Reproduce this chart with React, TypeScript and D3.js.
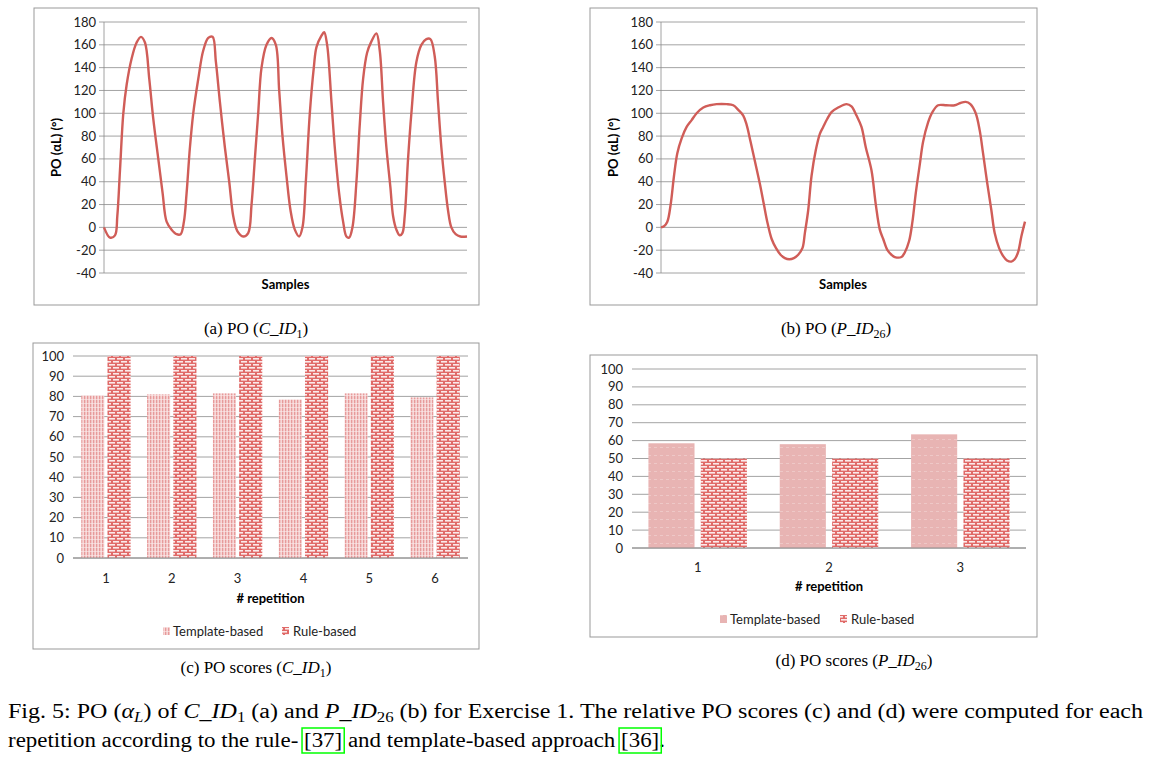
import React, { useEffect, useRef } from "react";
import * as d3 from "d3";

// ---- data ----
const yTicksLine = [-40, -20, 0, 20, 40, 60, 80, 100, 120, 140, 160, 180];
const yTicksBar = [0, 10, 20, 30, 40, 50, 60, 70, 80, 90, 100];

// panel (a): [sample, degrees]
const poC: [number, number][] = [
  [0,0],[18,-9],[33,-7],[40,10],[48,50],[58,100],[68,125],[83,148],[98,162],[111,167],[123,162],[136,130],[148,95],[163,60],[176,30],[188,5],[203,-2],[218,-6],[230,-6],[240,5],[248,30],[258,70],[268,100],[283,130],[298,155],[313,166],[326,167],[336,145],[348,110],[363,70],[376,40],[388,10],[400,-3],[418,-8],[433,-5],[443,20],[453,60],[463,100],[473,140],[488,160],[503,166],[516,160],[526,120],[536,80],[548,45],[560,15],[573,-2],[586,-8],[596,0],[606,40],[618,100],[630,140],[638,158],[653,168],[661,171],[670,160],[683,110],[693,70],[706,30],[718,5],[728,-8],[736,-9],[746,0],[758,40],[768,90],[778,130],[790,153],[803,163],[818,170],[828,155],[838,110],[848,70],[860,35],[868,10],[878,-2],[888,-7],[896,-5],[903,10],[913,60],[923,100],[938,145],[953,160],[968,165],[980,165],[993,150],[1003,110],[1013,70],[1023,40],[1033,15],[1043,0],[1056,-6],[1070,-8],[1090,-8]
];
// panel (b)
const poP: [number, number][] = [
  [0,0],[9,1],[19,5],[29,20],[39,45],[49,65],[62,78],[77,88],[92,94],[107,100],[127,105],[147,107],[167,108],[197,108],[217,107],[232,103],[247,98],[257,90],[269,75],[282,58],[297,38],[309,20],[319,5],[332,-10],[345,-18],[359,-24],[372,-27],[385,-28],[399,-27],[412,-24],[425,-18],[432,-5],[442,15],[452,45],[465,68],[477,82],[487,88],[499,95],[512,101],[532,105],[557,108],[572,106],[587,98],[602,88],[615,70],[632,50],[645,20],[657,-2],[667,-10],[680,-20],[692,-24],[702,-26],[722,-26],[732,-22],[745,-12],[755,5],[765,30],[777,55],[787,75],[802,92],[815,101],[832,107],[857,107],[882,107],[899,109],[915,110],[929,108],[945,100],[957,85],[967,65],[979,40],[992,15],[1002,-5],[1015,-18],[1027,-25],[1039,-29],[1052,-30],[1062,-28],[1072,-22],[1082,-8],[1093,5]
];

const repsC = ["1", "2", "3", "4", "5", "6"];
const templateC = [80.5, 81, 81.5, 78.5, 81.5, 79.5];
const ruleC = [100, 100, 100, 100, 100, 100];
const repsD = ["1", "2", "3"];
const templateD = [58.5, 58, 63.5];
const ruleD = [50, 50, 50];

const LINE = "#d05d58";
const GRID = "#8c8c8c";
const FONT = "Lato, 'Liberation Sans', sans-serif";
const SERIF = "'Liberation Serif', 'DejaVu Serif', serif";

function LineChart({ box, plot, data, xMax }: any) {
  const x = d3.scaleLinear().domain([0, xMax]).range([plot.x0, plot.x1]);
  const y = d3.scaleLinear().domain([-40, 180]).range([plot.y1, plot.y0]);
  const line = d3.line<[number, number]>().x(d => x(d[0])).y(d => y(d[1])).curve(d3.curveCatmullRom);
  return (
    <g>
      <rect x={box.x0} y={box.y0} width={box.x1 - box.x0} height={box.y1 - box.y0} fill="white" stroke="#999" strokeWidth={1} />
      {yTicksLine.map(t => (
        <g key={t}>
          <line x1={plot.x0 - 5} x2={plot.x1} y1={y(t)} y2={y(t)} stroke={GRID} strokeWidth={0.8} />
          <text x={plot.x0 - 8} y={y(t)} dy="0.35em" textAnchor="end" fontSize={13} fontFamily={FONT} fill="#222">{t}</text>
        </g>
      ))}
      <line x1={plot.x0} x2={plot.x0} y1={plot.y0} y2={plot.y1} stroke={GRID} strokeWidth={0.8} />
      <path d={line(data) || ""} fill="none" stroke={LINE} strokeWidth={2.4} />
      <text x={(plot.x0 + plot.x1) / 2} y={plot.y1 + 16} textAnchor="middle" fontSize={13} fontWeight="bold" fontFamily={FONT}>Samples</text>
      <text transform={`translate(${plot.x0 - 43},${(plot.y0 + plot.y1) / 2}) rotate(-90)`} textAnchor="middle" fontSize={13} fontWeight="bold" fontFamily={FONT}>PO (αL) (°)</text>
    </g>
  );
}

function BarChart({ box, plot, cats, tpl, rule, tplFill, inner, labelY, titleY, legendY, legend }: any) {
  const x0 = d3.scaleBand().domain(cats).range([plot.x0, plot.x1]).paddingInner(inner).paddingOuter(inner / 2);
  const x1 = d3.scaleBand().domain(["t", "r"]).range([0, x0.bandwidth()]).paddingInner(0.12);
  const y = d3.scaleLinear().domain([0, 100]).range([plot.y1, plot.y0]);
  return (
    <g>
      <rect x={box.x0} y={box.y0} width={box.x1 - box.x0} height={box.y1 - box.y0} fill="white" stroke="#999" strokeWidth={1} />
      {yTicksBar.map(t => (
        <g key={t}>
          <line x1={plot.x0} x2={plot.x1} y1={y(t)} y2={y(t)} stroke={GRID} strokeWidth={0.8} />
          <text x={plot.x0 - 9} y={y(t)} dy="0.35em" textAnchor="end" fontSize={13} fontFamily={FONT} fill="#222">{t}</text>
        </g>
      ))}
      {cats.map((c: string, i: number) => (
        <g key={c}>
          <rect x={x0(c)! + x1("t")!} y={y(tpl[i])} width={x1.bandwidth()} height={y(0) - y(tpl[i])} fill={tplFill} />
          <rect x={x0(c)! + x1("r")!} y={y(rule[i])} width={x1.bandwidth()} height={y(0) - y(rule[i])} fill="url(#brick)" />
          <text x={x0(c)! + x0.bandwidth() / 2} y={labelY} textAnchor="middle" fontSize={13} fontFamily={FONT} fill="#222">{c}</text>
        </g>
      ))}
      <line x1={plot.x0} x2={plot.x1} y1={y(0)} y2={y(0)} stroke={GRID} strokeWidth={1} />
      <text x={(plot.x0 + plot.x1) / 2} y={titleY} textAnchor="middle" fontSize={13} fontWeight="bold" fontFamily={FONT}># repetition</text>
      <rect x={legend[0]} y={legendY - 9} width={7} height={8} fill={tplFill} />
      <text x={legend[0] + 10} y={legendY} fontSize={13} fontFamily={FONT} fill="#222">Template-based</text>
      <rect x={legend[1]} y={legendY - 9} width={7} height={8} fill="url(#brick)" />
      <text x={legend[1] + 11} y={legendY} fontSize={13} fontFamily={FONT} fill="#222">Rule-based</text>
    </g>
  );
}

function Cap({ x, y, pre, id, sub }: any) {
  return (
    <text x={x} y={y} textAnchor="middle" fontSize={17} fontFamily={SERIF}>
      {pre}(<tspan fontStyle="italic">{id}</tspan><tspan fontSize={12} dy={4}>{sub}</tspan><tspan dy={-4}>)</tspan>
    </text>
  );
}

export default function App() {
  const ref37 = useRef<SVGTSpanElement>(null);
  const ref36 = useRef<SVGTSpanElement>(null);
  const box37 = useRef<SVGRectElement>(null);
  const box36 = useRef<SVGRectElement>(null);
  useEffect(() => {
    [[ref37, box37], [ref36, box36]].forEach(([t, r]: any) => {
      if (!t.current || !r.current) return;
      const b = t.current.getBBox();
      r.current.setAttribute("x", String(b.x - 2));
      r.current.setAttribute("y", String(b.y - 1));
      r.current.setAttribute("width", String(b.width + 4));
      r.current.setAttribute("height", String(b.height + 3));
    });
  }, []);
  return (
    <svg width={1151} height={761} style={{ position: "absolute", left: 0, top: 0 }}>
      <defs>
        <pattern id="brick" width={8} height={6} patternUnits="userSpaceOnUse">
          <rect width={8} height={6} fill="#e06a68" />
          <rect x={1} y={1} width={6} height={1.6} fill="#fbeaea" />
          <rect x={5} y={4} width={6} height={1.6} fill="#fbeaea" />
          <rect x={-3} y={4} width={6} height={1.6} fill="#fbeaea" />
        </pattern>
        <pattern id="vstripe" width={3} height={4} patternUnits="userSpaceOnUse">
          <rect width={3} height={4} fill="#f6d6d6" />
          <rect x={0} width={1.3} height={4} fill="#e79a9a" />
          <rect x={0} y={3} width={3} height={0.6} fill="#fbecec" />
        </pattern>
        <pattern id="solidpink" width={6} height={8} patternUnits="userSpaceOnUse">
          <rect width={6} height={8} fill="#e8b4b3" />
          <rect y={7} width={3} height={0.6} fill="#f3d5d5" />
        </pattern>
      </defs>
      <rect width={1151} height={761} fill="white" />
      <LineChart box={{ x0: 34, x1: 479, y0: 8, y1: 305 }} plot={{ x0: 104, x1: 467, y0: 22, y1: 273 }} data={poC} xMax={1090} />
      <LineChart box={{ x0: 590, x1: 1037, y0: 8, y1: 305 }} plot={{ x0: 661, x1: 1025, y0: 22, y1: 273 }} data={poP} xMax={1093} />
      <BarChart box={{ x0: 33, x1: 479, y0: 343, y1: 649 }} plot={{ x0: 73, x1: 468, y0: 356, y1: 558 }} cats={repsC} tpl={templateC} rule={ruleC}
        tplFill="url(#vstripe)" inner={0.25} labelY={583} titleY={603} legendY={636} legend={[163, 282]} />
      <BarChart box={{ x0: 590, x1: 1037, y0: 355, y1: 637 }} plot={{ x0: 632, x1: 1026, y0: 369, y1: 548 }} cats={repsD} tpl={templateD} rule={ruleD}
        tplFill="url(#solidpink)" inner={0.25} labelY={572} titleY={591} legendY={624} legend={[720, 840]} />
      <Cap x={256} y={334} pre="(a) PO " id="C_ID" sub="1" />
      <Cap x={836} y={334} pre="(b) PO " id="P_ID" sub="26" />
      <Cap x={256} y={673} pre="(c) PO scores " id="C_ID" sub="1" />
      <Cap x={854} y={666} pre="(d) PO scores " id="P_ID" sub="26" />
      <text x={8} y={718} fontSize={20} fontFamily={SERIF} textLength={1135} lengthAdjust="spacingAndGlyphs">
        Fig. 5: PO (<tspan fontStyle="italic">α</tspan><tspan fontStyle="italic" fontSize={14} dy={4}>L</tspan><tspan dy={-4}>) of </tspan><tspan fontStyle="italic">C_ID</tspan><tspan fontSize={14} dy={4}>1</tspan><tspan dy={-4}> (a) and </tspan><tspan fontStyle="italic">P_ID</tspan><tspan fontSize={14} dy={4}>26</tspan><tspan dy={-4}> (b) for Exercise 1. The relative PO scores (c) and (d) were computed for each</tspan>
      </text>
      <text x={8} y={747} fontSize={20} fontFamily={SERIF} textLength={657} lengthAdjust="spacingAndGlyphs">
        repetition according to the rule- <tspan ref={ref37}>[37]</tspan> and template-based approach <tspan ref={ref36}>[36]</tspan>.
      </text>
      <rect ref={box37} fill="none" stroke="#00ff00" strokeWidth={1.5} />
      <rect ref={box36} fill="none" stroke="#00ff00" strokeWidth={1.5} />
    </svg>
  );
}
